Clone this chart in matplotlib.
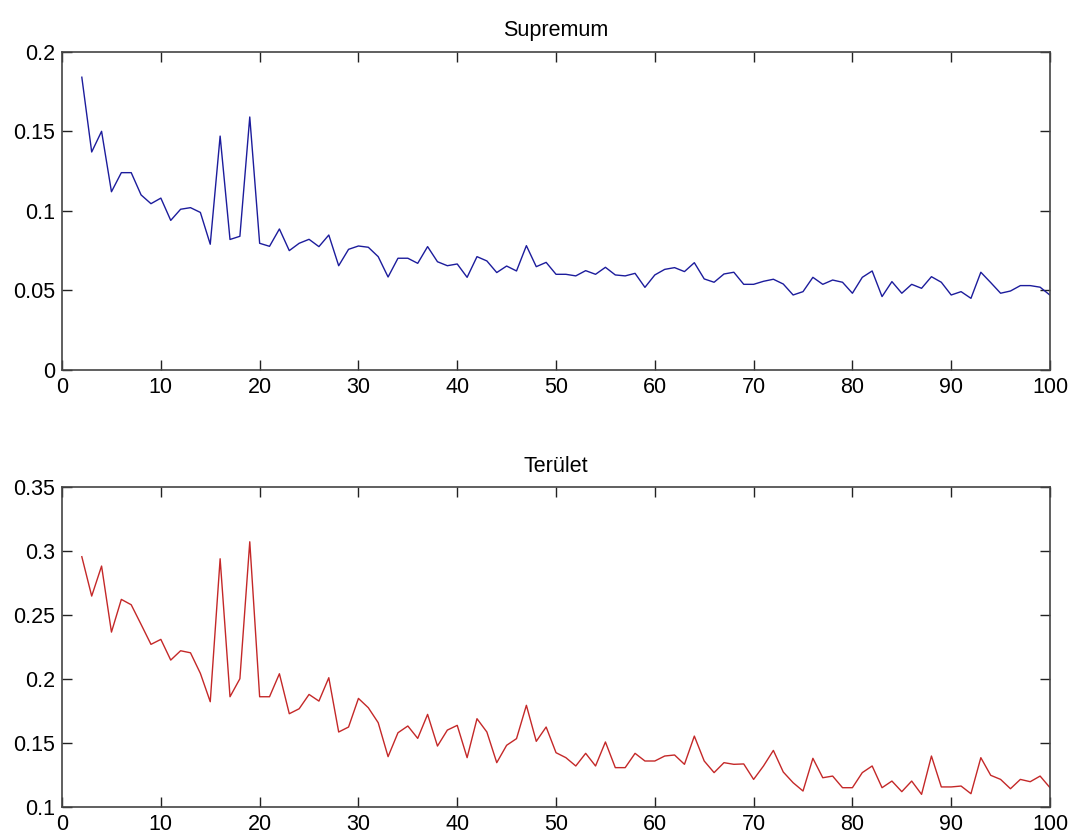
import numpy as np
import matplotlib.pyplot as plt

# x values 2..100
n = np.arange(2, 101)

supremum = [
    0.184, 0.137, 0.150, 0.112, 0.124, 0.124, 0.110, 0.1045, 0.108,
    0.094, 0.101, 0.102, 0.099, 0.079, 0.147, 0.082, 0.084, 0.159, 0.0796,
    0.0777, 0.0886, 0.075, 0.0796, 0.0821, 0.0775, 0.0848, 0.0655, 0.0758, 0.0779,
    0.0771, 0.0712, 0.0584, 0.0702, 0.0702, 0.067, 0.0775, 0.068, 0.0655, 0.0666,
    0.0582, 0.0712, 0.0685, 0.0612, 0.0653, 0.0622, 0.0781, 0.0649, 0.0676, 0.0601,
    0.0601, 0.0591, 0.0624, 0.0601, 0.0645, 0.0597, 0.0591, 0.0607, 0.0519, 0.0597,
    0.0632, 0.0643, 0.0618, 0.0674, 0.0572, 0.0551, 0.0603, 0.0614, 0.0538, 0.0538,
    0.0557, 0.057, 0.054, 0.0471, 0.0492, 0.0582, 0.0538, 0.0565, 0.0551, 0.0482,
    0.0582, 0.0622, 0.0461, 0.0555, 0.0482, 0.0538, 0.0513, 0.0586, 0.0551, 0.0471,
    0.0492, 0.045, 0.0614, 0.0549, 0.0482, 0.0496, 0.053, 0.053, 0.052, 0.047,
]

terulet = [
    0.2956, 0.2648, 0.2883, 0.2366, 0.2622, 0.258, 0.2426, 0.227, 0.2309,
    0.2147, 0.222, 0.2204, 0.2043, 0.1821, 0.294, 0.186, 0.2001, 0.3073, 0.186,
    0.186, 0.204, 0.1727, 0.1766, 0.1878, 0.1826, 0.2009, 0.1584, 0.1623, 0.1847,
    0.1774, 0.1657, 0.1391, 0.1578, 0.1631, 0.1534, 0.1722, 0.1474, 0.1599, 0.1636,
    0.1383, 0.1688, 0.1584, 0.1344, 0.148, 0.1532, 0.1793, 0.1511, 0.1623, 0.1422,
    0.1383, 0.1318, 0.1417, 0.1318, 0.1506, 0.1305, 0.1305, 0.1417, 0.1357, 0.1357,
    0.1396, 0.1404, 0.1331, 0.1552, 0.1357, 0.1266, 0.1344, 0.1331, 0.1334, 0.1213,
    0.1318, 0.144, 0.1271, 0.1187, 0.1122, 0.1378, 0.1226, 0.1239, 0.1148, 0.1148,
    0.1266, 0.1318, 0.1148, 0.12, 0.1117, 0.12, 0.1096, 0.1396, 0.1154, 0.1154,
    0.1161, 0.1101, 0.1383, 0.1245, 0.1213, 0.114, 0.1213, 0.1195, 0.1239, 0.1148,
]

titles = ['Supremum', 'Terület']
colors = ['#1c1c9c', '#c42828']
ylims = [(0, 0.2), (0.1, 0.35)]
yticks = [[0, 0.05, 0.1, 0.15, 0.2], [0.1, 0.15, 0.2, 0.25, 0.3, 0.35]]
yticklabels = [['0', '0.05', '0.1', '0.15', '0.2'],
               ['0.1', '0.15', '0.2', '0.25', '0.3', '0.35']]
xticks = [0, 10, 20, 30, 40, 50, 60, 70, 80, 90, 100]

plt.rcParams['font.family'] = ['Liberation Sans', 'DejaVu Sans']

fig = plt.figure(figsize=(10.7, 8.35), dpi=100)
ax1 = fig.add_axes([0.058, 0.557, 0.9233, 0.381])
ax2 = fig.add_axes([0.058, 0.034, 0.9233, 0.3825])

for ax, data, title, c, yl, yt, ytl in zip(
        [ax1, ax2], [supremum, terulet], titles, colors, ylims, yticks, yticklabels):
    ax.plot(n, data, color=c, linewidth=1.0)
    ax.set_xlim(0, 100)
    ax.set_ylim(*yl)
    ax.set_xticks(xticks)
    ax.set_xticklabels([str(t) for t in xticks])
    ax.set_yticks(yt)
    ax.set_yticklabels(ytl)
    ax.set_title(title, fontsize=15.5, pad=11)
    ax.tick_params(direction='in', length=7, width=1, top=True, right=True,
                   labelsize=15.5, pad=5, color='#222222')
    for s in ax.spines.values():
        s.set_color('#444444')
        s.set_linewidth(1.2)

fig.savefig('out.png', dpi=100)
